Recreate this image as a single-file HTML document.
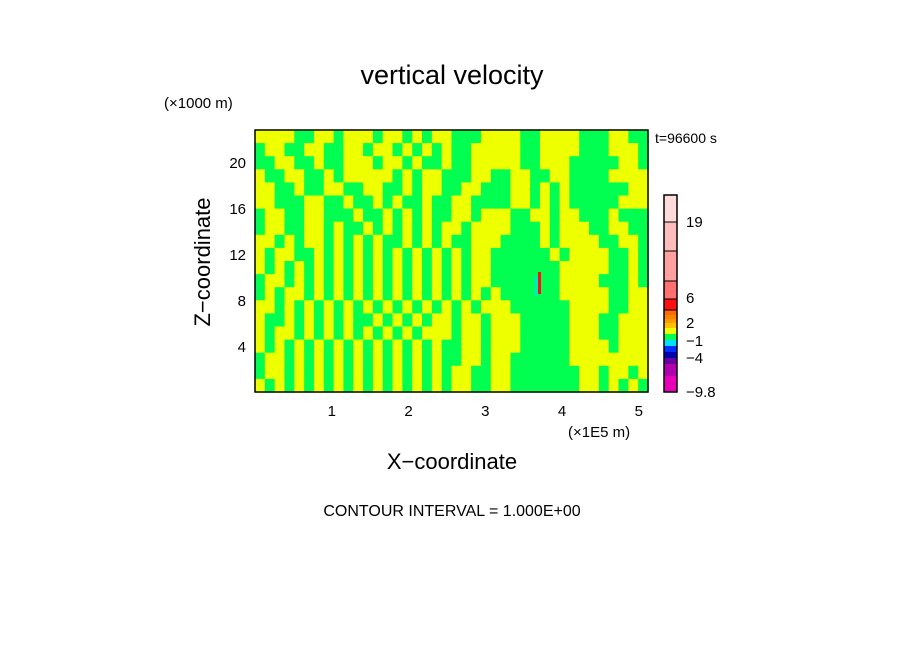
<!DOCTYPE html>
<html><head><meta charset="utf-8"><style>
html,body{margin:0;padding:0;background:#fff;}
svg{display:block;font-family:"Liberation Sans",sans-serif;}
</style></head><body>
<svg width="904" height="654" viewBox="0 0 904 654" xmlns="http://www.w3.org/2000/svg">
<rect width="904" height="654" fill="#fff"/>
<text x="452" y="84" font-size="27" text-anchor="middle">vertical velocity</text>
<text x="164" y="108" font-size="15">(×1000 m)</text>
<text x="655" y="143" font-size="14">t=96600 s</text>
<g id="field"></g>
<rect x="255" y="130" width="393" height="262" fill="none" stroke="#000" stroke-width="1.5"/>
<g id="axes"></g>
<g id="cbar"></g>
<text x="568" y="437" font-size="15">(×1E5 m)</text>
<text x="452" y="469" font-size="22" text-anchor="middle">X−coordinate</text>
<text transform="translate(210,262) rotate(-90)" font-size="22" text-anchor="middle">Z−coordinate</text>
<text x="452" y="516" font-size="16" text-anchor="middle">CONTOUR INTERVAL = 1.000E+00</text>
</svg>
<script>
const fieldRows = [
"YYYYGGYYGYYYGYYGYGYYGGGYYYYGGYYYYGGGYYGG",
"GYYGGYYGGYYGYYGYGYGYGGYYYYYGGYYYYGGGYYYG",
"GGYYGGYGGYYYGYYGYGGYGGYYYYYGGYYYGGGGGYYG",
"YGGYYGGYGYYYYYGYGYYGGGYYGGYYGGYYGGGGYYYY",
"YYGGYGGYYGGYYGGYGYYGGYYGGGYYGYGYGGGGGGYY",
"YYGGGYYGGYGGYGYGGYGGYYGGGGYYGYGYGGGGGYYY",
"GYYGGYYGGGYGGYGYGYGGYYGYYYGGYYGYYGGGYGGG",
"GYYGGYYGYGGYGYGYGYGYYGYYYYGGGYGYYYGGYYGG",
"YYGYGYYGYGYGYGGYGYGYGGYYYGGGGYGYYYYGGYYG",
"YGYYGGYGYGYGYGYGYGYGYGYYGGGGGGYGYYYYGGYG",
"YGYGYGYGYGYGYGYGYGYGYGYYGGGGGGGYYYYYGGYG",
"GYYGYGYGYGYGYGYGYGYGYGYYGGGGGGGYYYYGGGYG",
"GYGYYGYGYGYGYGYGYGYGYGYGYGGGGGGYYYYYGGYY",
"YYGYGYGYGYGYGYGYGYGYGYGYYYGGGGGGYYYYGGYY",
"YGGYGYGYGYGGYGYGYGYYGYYGYYYGGGGGYYYGGYYY",
"YGYYGYGYGYGYGYGYGYYYGYYGYYYGGGGGYYYGGYYY",
"YGYGYGYGYGYGYGYGYGYGGYYGYYYGGGGGYYYYGYYY",
"GYYGYGYGYGYGYGYGYGYGGYYGYYGGGGGGYYYYYYYY",
"GYYGYGYGYGYGYGYGYGYGYYGGYYGGGGGGGYYGYYGY",
"YGYGYGYGYGYGYGYGYGYGYYGGYYGGGGGGGYYGYGYG"
];
const xTicks = [1,2,3,4,5];
const yTicks = [4,8,12,16,20];
const cbarColors = ["#e800b8","#b000b0","#6a00a0","#0000b0","#0030ff","#00e0ff","#00ff50","#eeff00","#ffc000","#ff9a00","#ff8000","#ff6a00","#ff1010","#ff7070","#ffa0a0","#ffbcbc","#ffdcd9"];
const cbarHeights = [16,12,6,6,6,6,6,6,5,4,4,5,11,18,30,29,27];
const cbarLabels = ["19","6","2","−1","−4","−9.8"];
const cbarLabelY = [222,298,323,341,358,392];

const NS="http://www.w3.org/2000/svg";
const X0=255,X1=648,Y0=392,Y1=130, XMAX=5.12, ZMAX=22.8;
const sx=v=>X0+(v/XMAX)*(X1-X0);
const sz=v=>Y0-(v/ZMAX)*(Y0-Y1);
function mk(t,a){const e=document.createElementNS(NS,t);for(const k in a)e.setAttribute(k,a[k]);return e;}

const field=document.getElementById('field');
const nr=fieldRows.length, nc=fieldRows[0].length;
const cw=(X1-X0)/nc, ch=(Y0-Y1)/nr;
fieldRows.forEach((row,i)=>{
  for(let j=0;j<nc;j++){
    const r=mk('rect',{x:X0+j*cw,y:Y1+i*ch,width:cw+0.6,height:ch+0.6,fill:row[j]==='G'?'#00ff50':'#eeff00'});
    
    
    field.appendChild(r);
  }
});
const s1=mk('rect',{x:538,y:272,width:3,height:22,fill:'#ff1010'});


field.appendChild(s1);
const s2=mk('rect',{x:535,y:276,width:2,height:20,fill:'#00e0ff'});


field.appendChild(s2);

const axes=document.getElementById('axes');
xTicks.forEach(v=>{
  const t=mk('text',{x:sx(v),y:416,'font-size':15,'text-anchor':'middle'});
  t.textContent=v;
  
  
  axes.appendChild(t);
});
yTicks.forEach(v=>{
  const t=mk('text',{x:246,y:sz(v)+6,'font-size':15,'text-anchor':'end'});
  t.textContent=v;
  
  
  axes.appendChild(t);
});

const cb=document.getElementById('cbar');
let y=392;
cbarColors.forEach((c,i)=>{
  const h=cbarHeights[i]; y-=h;
  const r=mk('rect',{x:664,y:y,width:13,height:h,fill:c,stroke:(i>=12?'#000':'none'),'stroke-width':1});
  
  
  cb.appendChild(r);
});
cb.appendChild(mk('rect',{x:664,y:y,width:13,height:392-y,fill:'none',stroke:'#000','stroke-width':1.5}));
cbarLabels.forEach((l,i)=>{
  const t=mk('text',{x:686,y:cbarLabelY[i]+5,'font-size':15});
  t.textContent=l;
  
  
  cb.appendChild(t);
});
</script>
</body></html>
